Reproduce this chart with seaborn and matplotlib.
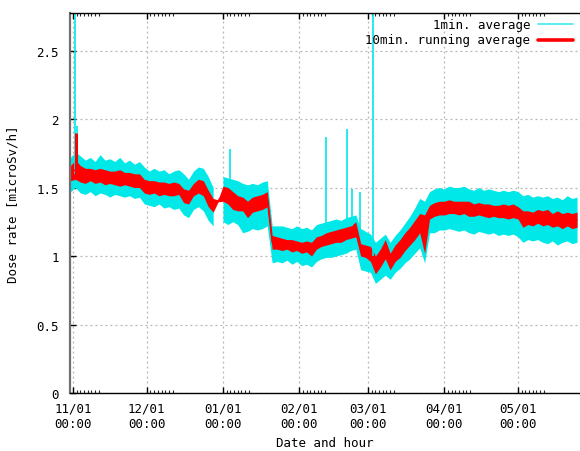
import numpy as np
import pandas as pd
import matplotlib
matplotlib.use("Agg")
import matplotlib.pyplot as plt
import seaborn as sns

# ---- data (days since 11/01 00:00) ----
days = list(range(-1, 206, 2))
cyan_lo = [1.47, 1.50, 1.46, 1.45, 1.47, 1.44, 1.46, 1.45, 1.43, 1.45,
           1.44, 1.43, 1.44, 1.42, 1.43, 1.38, 1.37, 1.36, 1.38, 1.35,
           1.36, 1.34, 1.35, 1.30, 1.28, 1.34, 1.36, 1.33, 1.26, 1.22,
           np.nan, 1.25, 1.23, 1.25, 1.23, 1.17, 1.18, 1.20, 1.19, 1.20,
           1.22, 0.95, 0.96, 0.95, 0.97, 0.94, 0.96, 0.93, 0.94, 0.92,
           0.96, 0.98, 0.99, 0.99, 1.00, 1.01, 1.02, 1.04, 1.05, 0.90,
           0.89, 0.88, 0.80, 0.83, 0.86, 0.83, 0.88, 0.91, 0.95, 0.98,
           1.02, 1.06, 0.95, 1.17, 1.17, 1.19, 1.19, 1.20, 1.19, 1.18,
           1.19, 1.17, 1.16, 1.18, 1.17, 1.16, 1.17, 1.15, 1.16, 1.15,
           1.16, 1.14, 1.10, 1.12, 1.11, 1.12, 1.10, 1.09, 1.11, 1.08,
           1.10, 1.11, 1.09, 1.10]
cyan_hi = [1.72, 1.76, 1.73, 1.70, 1.72, 1.69, 1.74, 1.70, 1.71, 1.69,
           1.72, 1.68, 1.70, 1.67, 1.69, 1.65, 1.62, 1.64, 1.62, 1.63,
           1.60, 1.62, 1.63, 1.60, 1.56, 1.62, 1.65, 1.64, 1.58, 1.50,
           np.nan, 1.58, 1.57, 1.56, 1.55, 1.53, 1.52, 1.53, 1.52, 1.54,
           1.55, 1.22, 1.22, 1.22, 1.21, 1.20, 1.22, 1.20, 1.21, 1.19,
           1.23, 1.24, 1.25, 1.26, 1.27, 1.26, 1.28, 1.29, 1.30, 1.20,
           1.18, 1.16, 1.10, 1.13, 1.16, 1.10, 1.15, 1.19, 1.24, 1.29,
           1.35, 1.42, 1.40, 1.47, 1.49, 1.50, 1.49, 1.51, 1.50, 1.50,
           1.51, 1.49, 1.48, 1.50, 1.48, 1.49, 1.48, 1.47, 1.48, 1.47,
           1.48, 1.47, 1.44, 1.45, 1.43, 1.44, 1.43, 1.44, 1.42, 1.43,
           1.41, 1.44, 1.42, 1.43]
red_lo = [1.55, 1.56, 1.54, 1.53, 1.55, 1.53, 1.54, 1.52, 1.53, 1.52,
          1.51, 1.52, 1.51, 1.50, 1.50, 1.46, 1.45, 1.46, 1.44, 1.45,
          1.44, 1.44, 1.45, 1.39, 1.38, 1.44, 1.46, 1.44, 1.36, 1.32,
          1.395, 1.40, 1.38, 1.34, 1.33, 1.33, 1.28, 1.32, 1.33, 1.34,
          1.36, 1.05, 1.05, 1.04, 1.05, 1.03, 1.04, 1.02, 1.03, 1.00,
          1.05, 1.07, 1.08, 1.09, 1.10, 1.10, 1.12, 1.13, 1.14, 1.00,
          0.99, 0.96, 0.87, 0.92, 0.98, 0.90, 0.96, 0.99, 1.04, 1.08,
          1.12, 1.17, 1.02, 1.27, 1.29, 1.30, 1.30, 1.31, 1.31, 1.30,
          1.31, 1.29, 1.29, 1.30, 1.29, 1.28, 1.29, 1.28, 1.28, 1.27,
          1.28, 1.27, 1.21, 1.23, 1.22, 1.24, 1.22, 1.23, 1.21, 1.22,
          1.20, 1.22, 1.20, 1.21]
red_hi = [1.66, 1.70, 1.66, 1.64, 1.64, 1.63, 1.64, 1.63, 1.62, 1.62,
          1.63, 1.61, 1.61, 1.60, 1.60, 1.56, 1.55, 1.55, 1.54, 1.54,
          1.53, 1.54, 1.53, 1.49, 1.48, 1.53, 1.56, 1.55, 1.48, 1.42,
          1.41, 1.51, 1.50, 1.47, 1.44, 1.43, 1.40, 1.43, 1.44, 1.45,
          1.47, 1.15, 1.14, 1.13, 1.12, 1.12, 1.11, 1.10, 1.11, 1.10,
          1.14, 1.15, 1.17, 1.18, 1.19, 1.20, 1.21, 1.22, 1.25, 1.09,
          1.08, 1.07, 1.00, 1.05, 1.12, 1.02, 1.08, 1.12, 1.17, 1.21,
          1.26, 1.31, 1.30, 1.37, 1.39, 1.40, 1.40, 1.41, 1.40, 1.40,
          1.40, 1.40, 1.38, 1.39, 1.38, 1.38, 1.37, 1.37, 1.38, 1.37,
          1.38, 1.36, 1.33, 1.33, 1.32, 1.34, 1.33, 1.34, 1.31, 1.33,
          1.31, 1.32, 1.31, 1.32]

# isolated 1-min spikes
spike_day = [0.8, 1.8, 63.8, 102.9, 111.4, 113.5, 116.7, 122.0]
spike_base = [1.60, 1.62, 1.50, 1.20, 1.22, 1.22, 1.15, 1.00]
spike_top = [2.85, 1.95, 1.78, 1.87, 1.93, 1.49, 1.47, 2.85]
# 10-min spike
red_spike_day = [1.2]
red_spike_top = [1.90]

month_pos = [0, 30, 61, 92, 120, 151, 181]
month_labels = ["11/01\n00:00", "12/01\n00:00", "01/01\n00:00", "02/01\n00:00",
                "03/01\n00:00", "04/01\n00:00", "05/01\n00:00"]
y_ticks = [0, 0.5, 1, 1.5, 2, 2.5]
y_labels = ["0", "0.5", "1", "1.5", "2", "2.5"]

assert len(days) == len(cyan_lo) == len(cyan_hi) == len(red_lo) == len(red_hi)

CYAN = "#00e8e8"
RED = "#ff0000"
FS = 9

sns.set_theme(style="white")
plt.rcParams["font.family"] = ["DejaVu Sans Mono"]
plt.rcParams.update({"font.size": FS, "xtick.labelsize": FS, "ytick.labelsize": FS,
                     "axes.labelsize": FS})

def long_form(lo, hi):
    return pd.DataFrame({"day": days + days, "rate": list(lo) + list(hi)}).dropna()

fig = plt.figure(figsize=(5.8, 4.52), dpi=100)
ax = fig.add_axes([70 / 580, 1 - 394 / 452, 510 / 580, 380 / 452])

cy = long_form(cyan_lo, cyan_hi)
for part in (cy[cy["day"] < 58], cy[cy["day"] > 60]):
    sns.lineplot(data=part, x="day", y="rate", ax=ax, estimator="mean",
                 errorbar=("pi", 100), color=CYAN, linewidth=0,
                 err_kws={"alpha": 1, "linewidth": 0})
ax.vlines(spike_day, spike_base, spike_top, color=CYAN, linewidth=1.2)

rd = long_form(red_lo, red_hi)
sns.lineplot(data=rd, x="day", y="rate", ax=ax, estimator="mean",
             errorbar=("pi", 100), color=RED, linewidth=1.0,
             err_kws={"alpha": 1, "linewidth": 0})
ax.vlines(red_spike_day, 1.6, red_spike_top, color=RED, linewidth=2.2)

ax.set_xlim(-1.22, 206.2)
ax.set_ylim(0, 2.774)

ax.set_xticks(month_pos)
ax.set_xticklabels(month_labels, linespacing=1.3)
minor = [m + k for m in month_pos for k in (1.5, 3, 4.5, 6, 7.5, 9, 10.5)]
ax.set_xticks(minor, minor=True)
ax.set_yticks(y_ticks)
ax.set_yticklabels(y_labels)

ax.tick_params(axis="x", which="major", direction="in", length=4, width=1,
               top=True, bottom=True, pad=6, colors="black", labelsize=FS)
ax.tick_params(axis="x", which="minor", direction="in", length=2, width=0.8,
               top=True, bottom=True)
ax.tick_params(axis="y", which="major", direction="in", length=4, width=1,
               left=True, right=False, pad=8, colors="black", labelsize=FS)

ax.grid(True, which="major", color="#b4b4b4", linestyle=(0, (1.5, 2.5)), linewidth=0.9)
ax.set_axisbelow(True)

for s in ("top", "bottom"):
    ax.spines[s].set_color("black")
    ax.spines[s].set_linewidth(1.0)
ax.spines["left"].set_color("#707070")
ax.spines["left"].set_linewidth(1.6)
ax.spines["right"].set_visible(False)

ax.set_xlabel("Date and hour", labelpad=4, color="black", fontsize=FS)
ax.set_ylabel("Dose rate [microSv/h]", labelpad=12, color="black", fontsize=FS)

# legend (gnuplot style: right-aligned text, sample to the right)
ax.text(0.902, 0.971, "1min. average", transform=ax.transAxes,
        ha="right", va="center", color="black", fontsize=FS)
ax.text(0.902, 0.929, "10min. running average", transform=ax.transAxes,
        ha="right", va="center", color="black", fontsize=FS)
ax.plot([0.918, 0.986], [0.971, 0.971], transform=ax.transAxes, color="#40e8f0", lw=1.2)
ax.plot([0.918, 0.986], [0.929, 0.929], transform=ax.transAxes, color=RED, lw=2.6)

fig.savefig("out.png", dpi=100)
